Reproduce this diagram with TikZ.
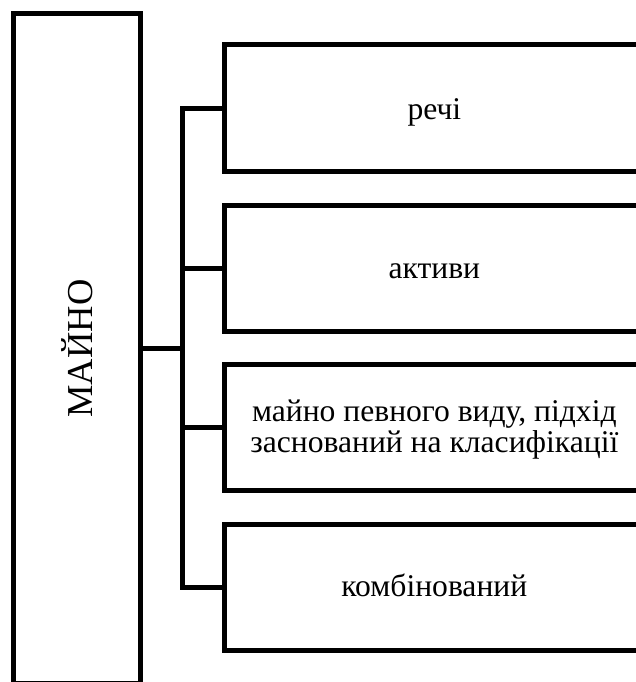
\documentclass[tikz,border=0pt]{standalone}
\usepackage{fontspec}
\setmainfont{Liberation Serif}
\begin{document}
\begin{tikzpicture}[x=1pt,y=-1pt,
  box/.style={draw, line width=5pt, minimum width=419.3pt, minimum height=126.5pt, inner sep=0pt},
  lbl/.style={font=\fontsize{31.6}{31}\selectfont, align=center, inner sep=0pt, anchor=base},
  link/.style={line width=5pt}]
\useasboundingbox (0,0) rectangle (636,682);
\node[draw, line width=5pt, minimum width=127pt, minimum height=670pt, inner sep=0pt] (m) at (77,348.5) {};
\node[rotate=90, font=\fontsize{36.5}{40}\selectfont] (mt) at (m.center) {МАЙНО};
\node[box] (b1) at (434.35,108.25) {};
\node[box] (b2) at (434.35,268.25) {};
\node[box] (b3) at (434.35,427.25) {};
\node[box, minimum height=126pt] (b4) at (434.35,587.5) {};
\node[lbl] (t1) at ([yshift=-11pt]b1.center) {речі};
\node[lbl] (t2) at ([yshift=-10pt]b2.center) {активи};
\node[lbl] (t3) at ([yshift=-25pt]b3.center) {майно певного виду, підхід\\заснований на класифікації};
\node[lbl] (t4) at ([yshift=-9.2pt]b4.center) {комбінований};
\coordinate (bx) at (182.5,0);
\draw[link] (b1.west) -- (b1.west -| bx) -- (b4.west -| bx) -- (b4.west);
\draw[link] (b2.west) -- (b2.west -| bx);
\draw[link] (b3.west) -- (b3.west -| bx);
\draw[link] (m.east) -- (m.east -| bx);
\end{tikzpicture}
\end{document}
